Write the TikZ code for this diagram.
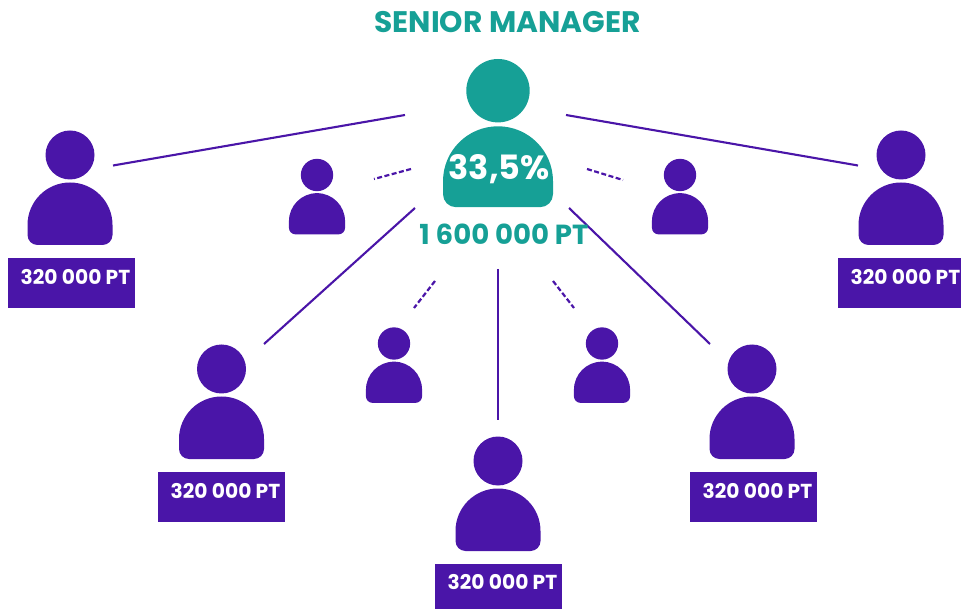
\documentclass[tikz,border=0pt]{standalone}
\usepackage{fontspec}
\setmainfont{Poppins}[BoldFont=* Bold]
\definecolor{pur}{HTML}{4A15A8}
\definecolor{teal1}{HTML}{16A096}
\tikzset{
  conn/.style={draw=pur,line width=2.1pt},
  dconn/.style={draw=pur,line width=2.2pt,dash pattern=on 5pt off 2.5pt},
  amount/.style={text=white,font=\bfseries\fontsize{20.2}{22}\selectfont,inner sep=0pt,anchor=center},
  pbox/.style={fill=pur,draw=none},
  pics/person/.style={code={
    \fill[#1] (0,0) circle (24.5);
    \fill[#1] (-42.5,70) arc[start angle=180,end angle=360,radius=42.5] -- (42.5,80)
      arc[start angle=0,end angle=90,radius=10] -- (-32.5,90)
      arc[start angle=90,end angle=180,radius=10] -- cycle;
  }}
}
\begin{document}
\begin{tikzpicture}[x=1pt,y=-1pt]
\useasboundingbox (0,0) rectangle (961,609);
% line ends
\coordinate (tl) at (405,115); \coordinate (el) at (113,165.5);
\coordinate (tr) at (566,115); \coordinate (er) at (858,165.5);
\coordinate (dl) at (411,169); \coordinate (fl) at (374,179);
\coordinate (dr) at (587,169); \coordinate (fr) at (623,180);
\coordinate (ll) at (415,208); \coordinate (ml) at (264,344);
\coordinate (lr) at (569,208); \coordinate (mr) at (710,344);
\coordinate (c1) at (498,269); \coordinate (c2) at (498,420);
\coordinate (gl) at (435,281); \coordinate (hl) at (414,308);
\coordinate (gr) at (553,281); \coordinate (hr) at (574,308);
% people
\pic at (498,90.7) [scale=1.294] {person={teal1}};
\pic at (70,155) {person={pur}};
\pic at (901,155) {person={pur}};
\pic at (221.5,369) {person={pur}};
\pic at (752,369) {person={pur}};
\pic at (498,461) {person={pur}};
\pic at (317,175) [scale=.66] {person={pur}};
\pic at (680,175) [scale=.66] {person={pur}};
\pic at (394,343.5) [scale=.66] {person={pur}};
\pic at (602,343.5) [scale=.66] {person={pur}};
% boxes
\fill[pbox] (8,258) rectangle (135,308);
\fill[pbox] (838,258) rectangle (961,308);
\fill[pbox] (158,472) rectangle (285,521.5);
\fill[pbox] (690,472) rectangle (817,521.5);
\fill[pbox] (435,564) rectangle (562,609);
% connectors
\draw[conn] (tl) -- (el);
\draw[conn] (tr) -- (er);
\draw[conn] (ll) -- (ml);
\draw[conn] (lr) -- (mr);
\draw[conn] (c1) -- (c2);
\draw[dconn] (dl) -- (fl);
\draw[dconn] (dr) -- (fr);
\draw[dconn] (gl) -- (hl);
\draw[dconn] (gr) -- (hr);
% texts
\node (title) at (507.5,22) [text=teal1,font=\bfseries\fontsize{29.7}{32}\selectfont,inner sep=0pt] {SENIOR MANAGER};
\node (pct) at (499,169.5) [text=white,font=\bfseries\fontsize{33.5}{36}\selectfont,inner sep=0pt] {33,5\%};
\node (tot) at (504,234) [text=teal1,font=\bfseries\fontsize{27.6}{30}\selectfont,inner sep=0pt] {1 600 000 PT};
\node (a1) at (75.5,277.5) [amount] {320 000 PT};
\node (a2) at (905.5,277.5) [amount] {320 000 PT};
\node (a3) at (225.5,491) [amount] {320 000 PT};
\node (a4) at (757.5,491) [amount] {320 000 PT};
\node (a5) at (502.5,582) [amount] {320 000 PT};
\end{tikzpicture}
\end{document}
